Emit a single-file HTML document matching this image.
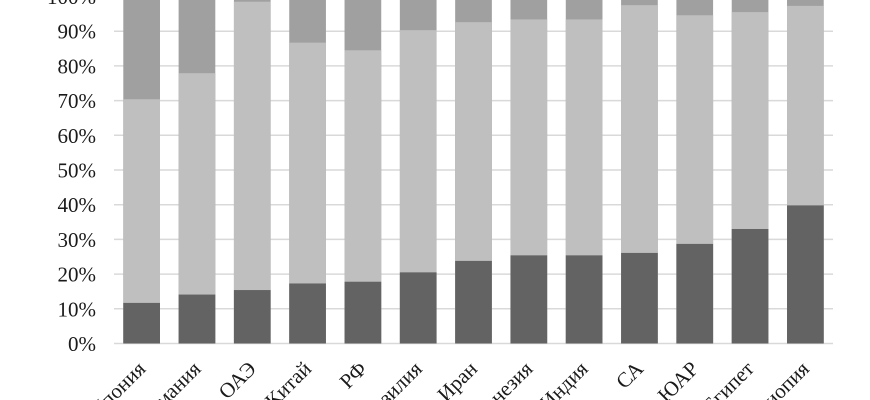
<!DOCTYPE html>
<html>
<head>
<meta charset="utf-8">
<style>
  html, body { margin: 0; padding: 0; background: #ffffff; width: 870px; height: 400px; overflow: hidden; }
  svg { display: block; }
  text { font-family: "Liberation Serif", "DejaVu Serif", serif; fill: #1a1a1a; }
</style>
</head>
<body>
<svg width="870" height="400" viewBox="0 0 870 400" xmlns="http://www.w3.org/2000/svg">
  <rect x="0" y="0" width="870" height="400" fill="#ffffff"/>
  <!-- gridlines -->
  <g stroke="#d9d9d9" stroke-width="1.5">
    <line x1="114" x2="833" y1="343.5" y2="343.5"/>
    <line x1="114" x2="833" y1="308.8" y2="308.8"/>
    <line x1="114" x2="833" y1="274.1" y2="274.1"/>
    <line x1="114" x2="833" y1="239.4" y2="239.4"/>
    <line x1="114" x2="833" y1="204.7" y2="204.7"/>
    <line x1="114" x2="833" y1="170" y2="170"/>
    <line x1="114" x2="833" y1="135.3" y2="135.3"/>
    <line x1="114" x2="833" y1="100.6" y2="100.6"/>
    <line x1="114" x2="833" y1="65.9" y2="65.9"/>
    <line x1="114" x2="833" y1="31.2" y2="31.2"/>
    <line x1="114" x2="833" y1="-3.5" y2="-3.5"/>
  </g>
  <!-- y labels -->
  <g font-size="21" text-anchor="end">
    <text x="96" y="351">0%</text>
    <text x="96" y="316.3">10%</text>
    <text x="96" y="281.6">20%</text>
    <text x="96" y="246.9">30%</text>
    <text x="96" y="212.2">40%</text>
    <text x="96" y="177.5">50%</text>
    <text x="96" y="142.8">60%</text>
    <text x="96" y="108.1">70%</text>
    <text x="96" y="73.4">80%</text>
    <text x="96" y="38.7">90%</text>
    <text x="96" y="4">100%</text>
  </g>
  <!-- top segment (full bars) -->
  <g fill="#a0a0a0">
    <rect x="123.3" y="-3.5" width="36.7" height="347"/>
    <rect x="178.61" y="-3.5" width="36.7" height="347"/>
    <rect x="233.92" y="-3.5" width="36.7" height="347"/>
    <rect x="289.23" y="-3.5" width="36.7" height="347"/>
    <rect x="344.54" y="-3.5" width="36.7" height="347"/>
    <rect x="399.85" y="-3.5" width="36.7" height="347"/>
    <rect x="455.16" y="-3.5" width="36.7" height="347"/>
    <rect x="510.47" y="-3.5" width="36.7" height="347"/>
    <rect x="565.78" y="-3.5" width="36.7" height="347"/>
    <rect x="621.09" y="-3.5" width="36.7" height="347"/>
    <rect x="676.4" y="-3.5" width="36.7" height="347"/>
    <rect x="731.71" y="-3.5" width="36.7" height="347"/>
    <rect x="787.02" y="-3.5" width="36.7" height="347"/>
  </g>
  <!-- middle segment -->
  <g fill="#bfbfbf">
    <rect x="123.3" y="99.21" width="36.7" height="244.29"/>
    <rect x="178.61" y="73.19" width="36.7" height="270.31"/>
    <rect x="233.92" y="1.7" width="36.7" height="341.8"/>
    <rect x="289.23" y="42.65" width="36.7" height="300.85"/>
    <rect x="344.54" y="50.28" width="36.7" height="293.22"/>
    <rect x="399.85" y="30.16" width="36.7" height="313.34"/>
    <rect x="455.16" y="22.18" width="36.7" height="321.32"/>
    <rect x="510.47" y="19.4" width="36.7" height="324.1"/>
    <rect x="565.78" y="19.4" width="36.7" height="324.1"/>
    <rect x="621.09" y="5.17" width="36.7" height="338.33"/>
    <rect x="676.4" y="15.24" width="36.7" height="328.26"/>
    <rect x="731.71" y="12.11" width="36.7" height="331.39"/>
    <rect x="787.02" y="5.87" width="36.7" height="337.63"/>
  </g>
  <!-- bottom segment -->
  <g fill="#636363">
    <rect x="123.3" y="302.9" width="36.7" height="40.6"/>
    <rect x="178.61" y="294.57" width="36.7" height="48.93"/>
    <rect x="233.92" y="290.06" width="36.7" height="53.44"/>
    <rect x="289.23" y="283.47" width="36.7" height="60.03"/>
    <rect x="344.54" y="281.73" width="36.7" height="61.77"/>
    <rect x="399.85" y="272.36" width="36.7" height="71.14"/>
    <rect x="455.16" y="260.91" width="36.7" height="82.59"/>
    <rect x="510.47" y="255.36" width="36.7" height="88.14"/>
    <rect x="565.78" y="255.36" width="36.7" height="88.14"/>
    <rect x="621.09" y="252.93" width="36.7" height="90.57"/>
    <rect x="676.4" y="243.91" width="36.7" height="99.59"/>
    <rect x="731.71" y="228.99" width="36.7" height="114.51"/>
    <rect x="787.02" y="205.39" width="36.7" height="138.11"/>
  </g>
  <!-- x labels -->
  <g font-size="21" text-anchor="end">
    <text transform="translate(146.65,370) rotate(-45)">Япония</text>
    <text transform="translate(201.96,370) rotate(-45)">Германия</text>
    <text transform="translate(257.27,370) rotate(-45)">ОАЭ</text>
    <text transform="translate(312.58,370) rotate(-45)">Китай</text>
    <text transform="translate(367.89,370) rotate(-45)">РФ</text>
    <text transform="translate(423.2,370) rotate(-45)">Бразилия</text>
    <text transform="translate(478.51,370) rotate(-45)">Иран</text>
    <text transform="translate(533.82,370) rotate(-45)">Индонезия</text>
    <text transform="translate(589.13,370) rotate(-45)">Индия</text>
    <text transform="translate(644.44,370) rotate(-45)">СА</text>
    <text transform="translate(699.75,370) rotate(-45)">ЮАР</text>
    <text transform="translate(755.06,370) rotate(-45)">Египет</text>
    <text transform="translate(810.37,370) rotate(-45)">Эфиопия</text>
  </g>
</svg>
</body>
</html>
